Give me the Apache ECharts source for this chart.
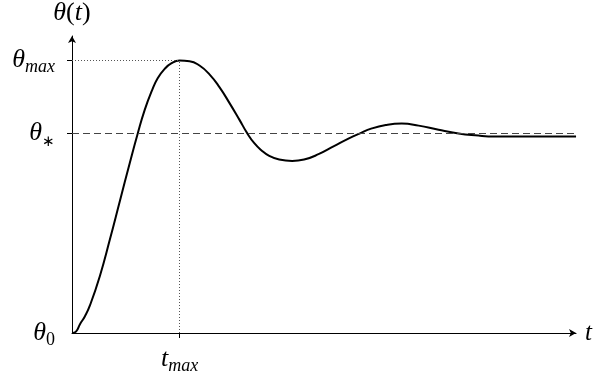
<!DOCTYPE html>
<html>
<head>
<meta charset="utf-8">
<script src="https://cdn.jsdelivr.net/npm/echarts@6/dist/echarts.min.js"></script>
<style>
  html, body { margin: 0; padding: 0; background: #fff; }
  #main { width: 595px; height: 375px; }
</style>
</head>
<body>
<div id="main"></div>
<script>
// response curve (t in arbitrary units, theta normalised so theta* = 1)
var tValues = [0, 0.4, 0.8, 1.3, 1.8, 2.8, 3.8, 4.8, 5.8, 6.6, 7.3, 8.0, 8.6, 9.3, 10.0, 10.8, 11.8, 12.8, 13.8, 14.8, 15.8, 16.8, 17.6, 18.3, 19.0, 19.8, 20.8, 22.1, 23.3, 24.8, 26.3, 27.8, 28.8, 30.1, 31.5, 33.1, 34.8, 36.8, 38.8, 40.8, 41.8, 42.8, 50.6];
var thetaValues = [0, 0.007, 0.044, 0.084, 0.138, 0.286, 0.468, 0.66, 0.852, 1.0, 1.118, 1.212, 1.276, 1.323, 1.352, 1.365, 1.362, 1.34, 1.296, 1.232, 1.153, 1.069, 1.0, 0.951, 0.916, 0.887, 0.869, 0.862, 0.869, 0.897, 0.936, 0.975, 0.998, 1.025, 1.042, 1.049, 1.039, 1.018, 1.0, 0.989, 0.985, 0.985, 0.985];

var thetaStar = 1.0;
var thetaMax = 1.365;
var tMax = 10.8;

var yTickValues = [thetaMax, thetaStar];
var yLabelValues = [0, thetaStar, thetaMax];
var yLabelTexts = ['{a|θ}{n|0}', '{a|θ}{st|∗}', '{a|θ}{s|max}'];
var xLabelValues = [tMax];
var xLabelTexts = ['{a|t}{s|max}'];

var mathFont = '"Liberation Serif", serif';
var richText = {
    a: { fontFamily: mathFont, fontStyle: 'italic', fontSize: 26, lineHeight: 32, verticalAlign: 'middle', color: '#000' },
    s: { fontFamily: mathFont, fontStyle: 'italic', fontSize: 18, lineHeight: 16, verticalAlign: 'bottom', color: '#000' },
    st: { fontFamily: mathFont, fontSize: 15, lineHeight: 15, verticalAlign: 'bottom', color: '#000' },
    n: { fontFamily: mathFont, fontSize: 18, lineHeight: 16, verticalAlign: 'bottom', color: '#000' }
};

window.onload = function () {
    var points = [];
    for (var i = 0; i < tValues.length; i++) {
        points.push([tValues[i], thetaValues[i]]);
    }

    var option = {
        animation: false,
        grid: { left: 72, right: 17, top: 36, bottom: 38 },
        xAxis: {
            type: 'value',
            min: 0,
            max: 50.6,
            name: 't',
            nameLocation: 'end',
            nameGap: 9,
            nameTextStyle: { fontFamily: mathFont, fontStyle: 'italic', fontSize: 25, color: '#000', verticalAlign: 'middle' },
            axisLine: { lineStyle: { color: '#000', width: 1 }, symbol: ['none', 'arrow'], symbolSize: [6, 7] },
            axisTick: { show: true, length: 5, customValues: xLabelValues, lineStyle: { color: '#000' } },
            axisLabel: {
                customValues: xLabelValues,
                margin: 10,
                formatter: function (v) { return xLabelTexts[xLabelValues.indexOf(v)] || ''; },
                rich: richText
            },
            splitLine: { show: false }
        },
        yAxis: {
            type: 'value',
            min: 0,
            max: 1.488,
            name: '{i|θ}{r|(}{i|t}{r|)}',
            nameLocation: 'end',
            nameGap: 10,
            nameTextStyle: {
                align: 'center',
                rich: {
                    i: { fontFamily: mathFont, fontStyle: 'italic', fontSize: 26, color: '#000' },
                    r: { fontFamily: mathFont, fontSize: 26, color: '#000' }
                }
            },
            axisLine: { lineStyle: { color: '#000', width: 1 }, symbol: ['none', 'arrow'], symbolSize: [6, 7] },
            axisTick: { show: true, length: 5, customValues: yTickValues, lineStyle: { color: '#000' } },
            axisLabel: {
                customValues: yLabelValues,
                margin: 17,
                formatter: function (v) { return yLabelTexts[yLabelValues.indexOf(v)] || ''; },
                rich: richText
            },
            splitLine: { show: false }
        },
        series: [{
            type: 'line',
            data: points,
            smooth: 0.5,
            symbol: 'none',
            lineStyle: { color: '#000', width: 2 },
            markLine: {
                silent: true,
                symbol: 'none',
                label: { show: false },
                data: [
                    { yAxis: thetaStar, lineStyle: { type: [7, 4], color: '#444', width: 1 } },
                    [{ coord: [0, thetaMax], lineStyle: { type: [1, 2], color: '#555', width: 1 } }, { coord: [tMax, thetaMax] }],
                    [{ coord: [tMax, 0], lineStyle: { type: [1, 2], color: '#555', width: 1 } }, { coord: [tMax, thetaMax] }]
                ]
            }
        }]
    };

    var chart = echarts.init(document.getElementById('main'));
    chart.setOption(option);
};
</script>
</body>
</html>
